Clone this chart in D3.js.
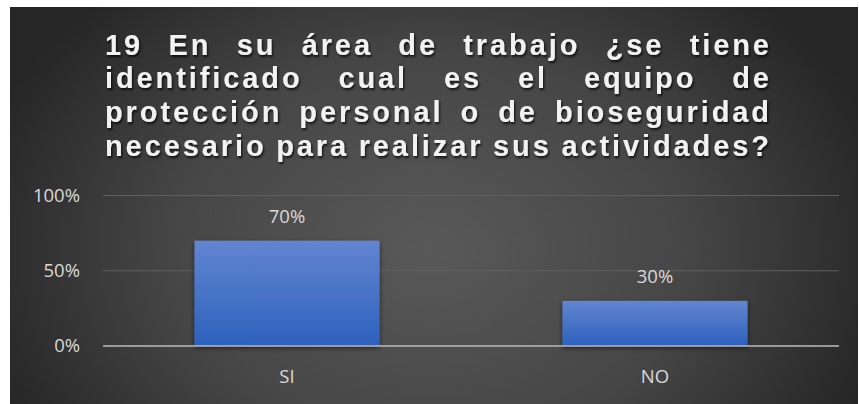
<!DOCTYPE html>
<html>
<head>
<meta charset="utf-8">
<script src="https://cdn.jsdelivr.net/npm/d3@7"></script>
<style>
  html, body { margin: 0; padding: 0; background: #ffffff; }
  svg { display: block; }
</style>
</head>
<body>
<svg id="chart" width="859" height="404"></svg>
<script>
// Survey question and answers
const titleLines = [
  "19 En su área de trabajo ¿se tiene",
  "identificado cual es el equipo de",
  "protección personal o de bioseguridad",
  "necesario para realizar sus actividades?"
];
const categories = ["SI", "NO"];
const values = [0.70, 0.30];
const valueLabels = ["70%", "30%"];
const yTicks = [0, 0.5, 1];
const yTickLabels = ["0%", "50%", "100%"];

const W = 859, H = 404;
const svg = d3.select("#chart");
const defs = svg.append("defs");

// Dark panel with a soft radial glow toward the middle
const bg = defs.append("radialGradient").attr("id", "bgGrad")
  .attr("gradientUnits", "userSpaceOnUse")
  .attr("cx", 430).attr("cy", 250).attr("r", 470)
  .attr("gradientTransform", "translate(430,250) scale(1,0.75) translate(-430,-250)");
bg.append("stop").attr("offset", "0%").attr("stop-color", "#595959");
bg.append("stop").attr("offset", "55%").attr("stop-color", "#464646");
bg.append("stop").attr("offset", "100%").attr("stop-color", "#262626");

const barGrad = defs.append("linearGradient").attr("id", "barGrad")
  .attr("x1", 0).attr("y1", 0).attr("x2", 0).attr("y2", 1);
barGrad.append("stop").attr("offset", "0%").attr("stop-color", "#6285d0");
barGrad.append("stop").attr("offset", "100%").attr("stop-color", "#2d61bd");

const txtShadow = defs.append("filter").attr("id", "txtShadow")
  .attr("x", "-10%").attr("y", "-30%").attr("width", "130%").attr("height", "170%");
txtShadow.append("feDropShadow").attr("dx", 1.2).attr("dy", 2).attr("stdDeviation", 1.3)
  .attr("flood-color", "#000").attr("flood-opacity", 0.75);

const barShadow = defs.append("filter").attr("id", "barShadow")
  .attr("x", "-10%").attr("y", "-10%").attr("width", "120%").attr("height", "125%");
barShadow.append("feDropShadow").attr("dx", 0).attr("dy", 2).attr("stdDeviation", 2.5)
  .attr("flood-color", "#000").attr("flood-opacity", 0.55);

svg.append("rect").attr("x", 10).attr("y", 7).attr("width", 848).attr("height", 397)
  .attr("fill", "url(#bgGrad)");

// Title: bold, letter-spaced, justified between fixed edges
const tLeft = 105, tRight = 769;
const titleG = svg.append("g").attr("filter", "url(#txtShadow)");
titleLines.forEach((line, i) => {
  const y = 54.5 + i * 33.8;
  const words = line.split(" ");
  const nodes = words.map(w => titleG.append("text")
    .attr("y", y)
    .attr("font-family", "'Liberation Sans', Arial, sans-serif")
    .attr("font-weight", "bold")
    .attr("font-size", 29)
    .attr("letter-spacing", 2.9)
    .attr("fill", "#f2f2f2")
    .text(w));
  const widths = nodes.map(n => n.node().getComputedTextLength() - 2.9);
  const total = d3.sum(widths);
  const gap = (tRight - tLeft - total) / (words.length - 1);
  let x = tLeft;
  nodes.forEach((n, k) => { n.attr("x", x); x += widths[k] + gap; });
});

// Plot area
const plot = { left: 103, right: 839, top: 195.5, bottom: 346 };
const x = d3.scaleBand().domain(categories).range([plot.left, plot.right])
  .paddingInner(0.497).paddingOuter(0.2485);
const y = d3.scaleLinear().domain([0, 1]).range([plot.bottom, plot.top]);

const labelFont = "'Open Sans', 'Noto Sans', sans-serif";
const labelSize = 18.5;

// Gridlines
svg.append("g").selectAll("line").data(yTicks.filter(d => d > 0)).join("line")
  .attr("x1", plot.left).attr("x2", plot.right)
  .attr("y1", d => y(d)).attr("y2", d => y(d))
  .attr("stroke", "#5f5f5f").attr("stroke-width", 1.2);

// Y axis labels
const yAxis = d3.axisLeft(y).tickValues(yTicks)
  .tickFormat((d, i) => yTickLabels[i]).tickSize(0).tickPadding(0);
const yG = svg.append("g").attr("transform", `translate(80,0)`).call(yAxis);
yG.select(".domain").remove();
yG.selectAll("text")
  .attr("font-family", labelFont)
  .attr("font-size", labelSize).attr("fill", "#d9d9d9");

// Bars
svg.append("g").selectAll("rect").data(values).join("rect")
  .attr("x", (d, i) => x(categories[i]))
  .attr("y", d => y(d))
  .attr("width", x.bandwidth())
  .attr("height", d => plot.bottom - y(d))
  .attr("fill", "url(#barGrad)")
  .attr("filter", "url(#barShadow)");

// Value labels
svg.append("g").selectAll("text").data(values).join("text")
  .attr("x", (d, i) => x(categories[i]) + x.bandwidth() / 2)
  .attr("y", d => y(d) - 18)
  .attr("text-anchor", "middle")
  .attr("font-family", labelFont)
  .attr("font-size", labelSize).attr("fill", "#d9d9d9")
  .text((d, i) => valueLabels[i]);

// Baseline
svg.append("line")
  .attr("x1", plot.left).attr("x2", plot.right)
  .attr("y1", plot.bottom).attr("y2", plot.bottom)
  .attr("stroke", "#b3b3b3").attr("stroke-opacity", 0.8).attr("stroke-width", 2);

// Category axis labels
const xAxis = d3.axisBottom(x).tickSize(0).tickPadding(0);
const xG = svg.append("g").attr("transform", `translate(0,${plot.bottom + 24})`).call(xAxis);
xG.select(".domain").remove();
xG.selectAll("text")
  .attr("font-family", labelFont)
  .attr("font-size", labelSize).attr("fill", "#d9d9d9");
</script>
</body>
</html>
